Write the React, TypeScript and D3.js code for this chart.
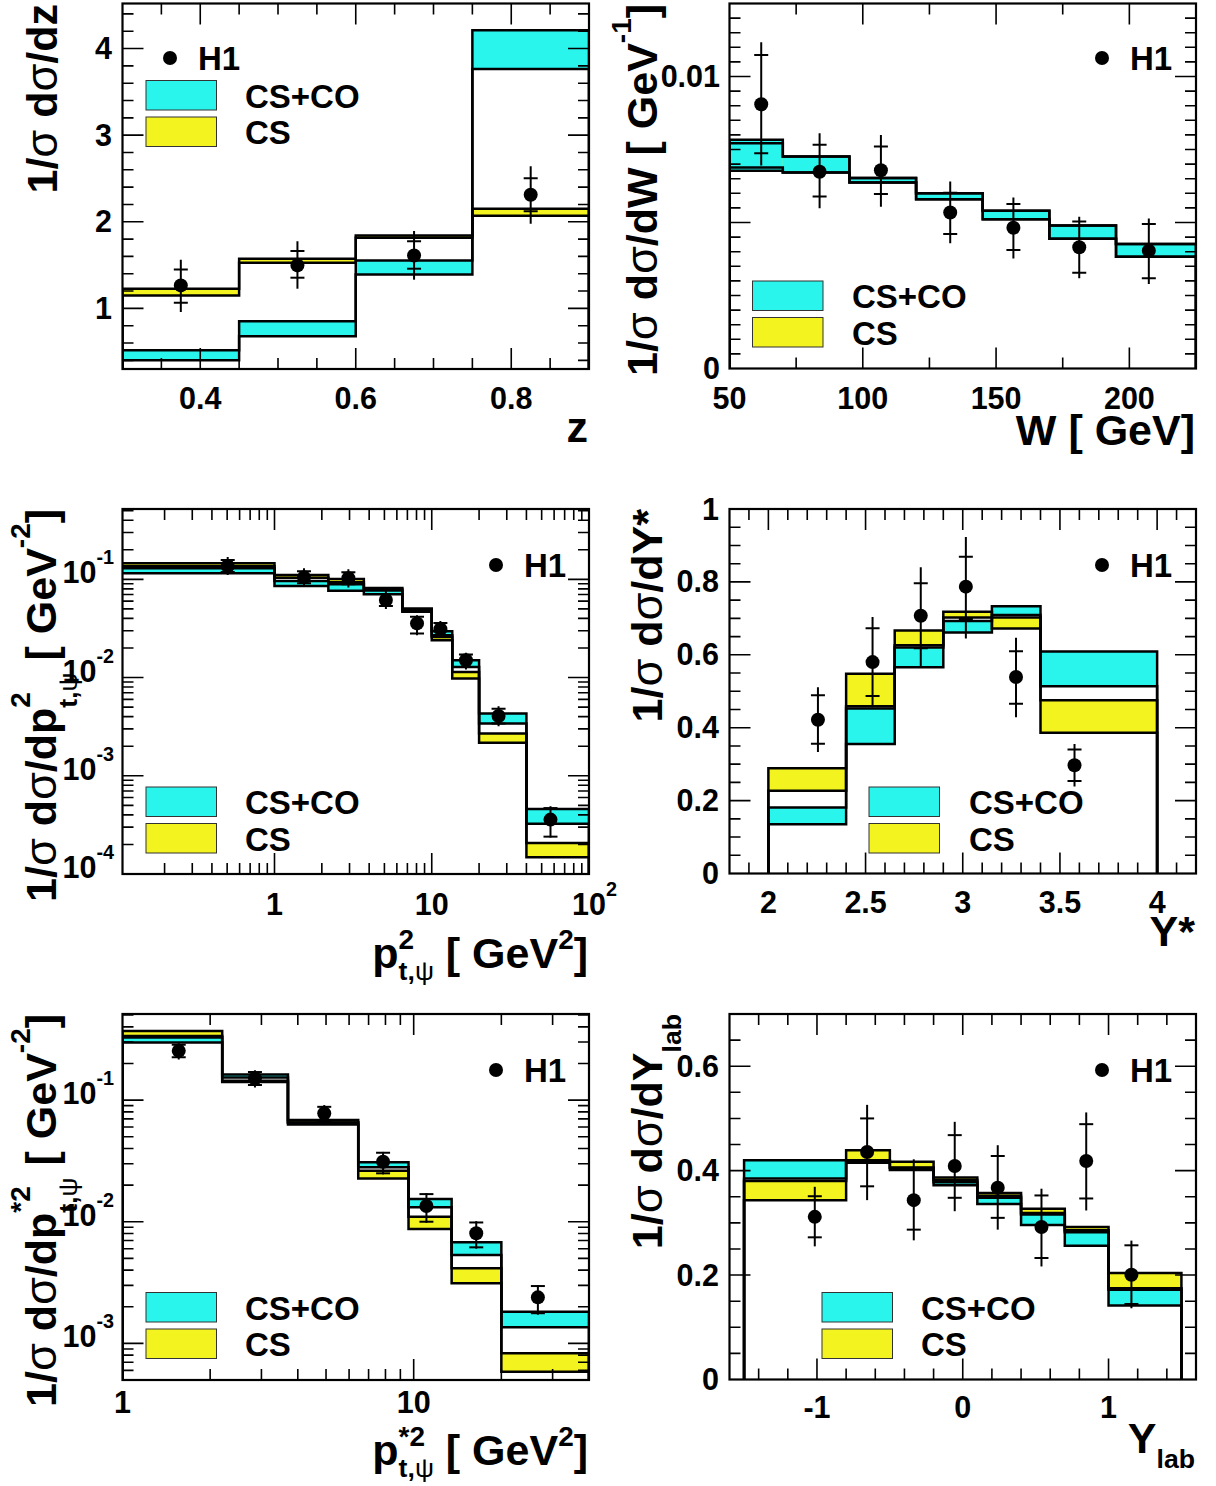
import React from 'react';
import * as d3 from 'd3';

const W = 1216, H = 1486;
const CYAN = '#2af5ec';
const YELLOW = '#f3f41f';
const FF = '"Liberation Sans", Arial, Helvetica, sans-serif';

// ================= DATA =================
// Panel 1: z
const zEdges = [0.3, 0.45, 0.6, 0.75, 0.9];
const zCsCoLo = [0.40, 0.677, 1.392, 3.765];
const zCsCoHi = [0.516, 0.85, 1.553, 4.21];
const zCsLo = [1.15, 1.527, 1.815, 2.07];
const zCsHi = [1.227, 1.573, 1.842, 2.15];
const zH1X = [0.375, 0.525, 0.675, 0.825];
const zH1Y = [1.265, 1.496, 1.611, 2.311];
const zStatLo = [1.066, 1.354, 1.458, 2.122];
const zStatHi = [1.45, 1.661, 1.776, 2.503];
const zTotLo = [0.957, 1.227, 1.331, 1.977];
const zTotHi = [1.562, 1.776, 1.892, 2.641];
const zXTicks = [0.4, 0.6, 0.8];
const zXLabels = ['0.4', '0.6', '0.8'];
const zYTicks = [1, 2, 3, 4];
const zYLabels = ['1', '2', '3', '4'];

// Panel 2: W
const wEdges = [50, 70, 95, 120, 145, 170, 195, 225];
const wCsCoLo = [0.00677, 0.00671, 0.00637, 0.0058, 0.00511, 0.00444, 0.00383];
const wCsCoHi = [0.00783, 0.00726, 0.00652, 0.0060, 0.0054, 0.0049, 0.00426];
const wCsLo = [0.00688, 0.00671, 0.00637, 0.0058, 0.00511, 0.00444, 0.00383];
const wCsHi = [0.00771, 0.00726, 0.00652, 0.0060, 0.0054, 0.0049, 0.00426];
const wH1X = [61.9, 83.8, 106.8, 132.8, 156.5, 181.2, 207.3];
const wH1Y = [0.00905, 0.00674, 0.00679, 0.00534, 0.00482, 0.00415, 0.00403];
const wStatLo = [0.00737, 0.00589, 0.00598, 0.00461, 0.00406, 0.00328, 0.00309];
const wStatHi = [0.01074, 0.00766, 0.0076, 0.00602, 0.00563, 0.00503, 0.00495];
const wTotLo = [0.00695, 0.00549, 0.00554, 0.00429, 0.00377, 0.00309, 0.00289];
const wTotHi = [0.01117, 0.00806, 0.008, 0.0064, 0.00586, 0.0052, 0.00514];
const wXTicks = [50, 100, 150, 200];
const wXLabels = ['50', '100', '150', '200'];
const wYTicks = [0, 0.01];
const wYLabels = ['0', '0.01'];

// Panel 3: pt^2
const ptEdges = [0.05, 1, 2.2, 3.7, 6.5, 10, 13.5, 20, 40, 100];
const ptCsCoLo = [0.115, 0.0855, 0.0766, 0.0705, 0.0467, 0.027, 0.01283, 0.0034, 0.000324];
const ptCsCoHi = [0.130, 0.0961, 0.0889, 0.077, 0.0485, 0.0296, 0.01503, 0.0043, 0.00046];
const ptCsLo = [0.136, 0.1038, 0.0932, 0.0795, 0.0485, 0.024, 0.00977, 0.00217, 0.000148];
const ptCsHi = [0.1456, 0.1106, 0.1007, 0.0815, 0.0506, 0.0258, 0.0114, 0.00269, 0.000207];
const ptH1X = [0.504, 1.54, 2.95, 5.11, 8.06, 11.35, 16.5, 26.6, 56.9];
const ptH1Y = [0.1368, 0.1048, 0.1024, 0.0615, 0.0356, 0.0311, 0.0150, 0.00406, 0.000358];
const ptStatLo = [0.119, 0.091, 0.089, 0.0534, 0.0281, 0.027, 0.0128, 0.0034, 0.00024];
const ptStatHi = [0.157, 0.1206, 0.118, 0.0708, 0.0417, 0.036, 0.0172, 0.0048, 0.000469];
const ptTotLo = [0.111, 0.0848, 0.0828, 0.0498, 0.027, 0.0262, 0.0121, 0.0032, 0.000235];
const ptTotHi = [0.169, 0.1295, 0.1265, 0.076, 0.0432, 0.0376, 0.0179, 0.0051, 0.00049];
const ptXTicks = [1, 10, 100];
const ptXLabels = [['1'], ['10'], ['10', '2']];
const ptYTicks = [0.1, 0.01, 0.001, 0.0001];
const ptYLabels = [['10', '-1'], ['10', '-2'], ['10', '-3'], ['10', '-4']];

// Panel 4: Y*
const ysEdges = [2, 2.4, 2.65, 2.9, 3.15, 3.4, 4];
const ysCsCoLo = [0.135, 0.355, 0.566, 0.661, 0.709, 0.514];
const ysCsCoHi = [0.181, 0.453, 0.620, 0.693, 0.733, 0.609];
const ysCsLo = [0.227, 0.459, 0.626, 0.702, 0.672, 0.386];
const ysCsHi = [0.289, 0.548, 0.667, 0.718, 0.702, 0.475];
const ysH1X = [2.255, 2.536, 2.784, 3.016, 3.274, 3.575];
const ysH1Y = [0.422, 0.580, 0.707, 0.787, 0.539, 0.297];
const ysStatLo = [0.356, 0.487, 0.618, 0.698, 0.466, 0.254];
const ysStatHi = [0.489, 0.673, 0.796, 0.869, 0.610, 0.340];
const ysTotLo = [0.333, 0.456, 0.569, 0.645, 0.429, 0.239];
const ysTotHi = [0.511, 0.704, 0.840, 0.923, 0.647, 0.355];
const ysXTicks = [2, 2.5, 3, 3.5, 4];
const ysXLabels = ['2', '2.5', '3', '3.5', '4'];
const ysYTicks = [0, 0.2, 0.4, 0.6, 0.8, 1];
const ysYLabels = ['0', '0.2', '0.4', '0.6', '0.8', '1'];

// Panel 5: pt*^2
const psEdges = [1, 2.2, 3.7, 6.45, 9.6, 13.5, 20, 40];
const psCsCoLo = [0.298, 0.153, 0.063, 0.028, 0.01313, 0.00532, 0.001355];
const psCsCoHi = [0.327, 0.1625, 0.0655, 0.0308, 0.01538, 0.00678, 0.001824];
const psCsLo = [0.336, 0.141, 0.0655, 0.0227, 0.0087, 0.00312, 0.000585];
const psCsHi = [0.369, 0.144, 0.0686, 0.0262, 0.011, 0.00414, 0.00083];
const psH1X = [1.56, 2.85, 4.93, 7.85, 11.06, 16.4, 26.7];
const psH1Y = [0.254, 0.1507, 0.0778, 0.0311, 0.01345, 0.00803, 0.00239];
const psStatLo = [0.225, 0.133, 0.066, 0.025, 0.0100, 0.00616, 0.00177];
const psStatHi = [0.285, 0.170, 0.088, 0.0369, 0.01687, 0.00986, 0.00296];
const psTotLo = [0.216, 0.127, 0.0636, 0.0245, 0.0098, 0.006, 0.00172];
const psTotHi = [0.293, 0.176, 0.091, 0.0375, 0.0172, 0.0101, 0.00302];
const psXTicks = [1, 10];
const psXLabels = [['1'], ['10']];
const psYTicks = [0.1, 0.01, 0.001];
const psYLabels = [['10', '-1'], ['10', '-2'], ['10', '-3']];

// Panel 6: Y_lab
const ylEdges = [-1.5, -0.8, -0.5, -0.2, 0.1, 0.4, 0.7, 1.0, 1.5];
const ylCsCoLo = [0.385, 0.415, 0.401, 0.372, 0.336, 0.296, 0.256, 0.1415];
const ylCsCoHi = [0.420, 0.419, 0.405, 0.378, 0.348, 0.316, 0.282, 0.1717];
const ylCsLo = [0.3435, 0.420, 0.406, 0.382, 0.352, 0.319, 0.286, 0.175];
const ylCsHi = [0.380, 0.439, 0.417, 0.387, 0.357, 0.327, 0.292, 0.204];
const ylH1X = [-1.015, -0.656, -0.336, -0.055, 0.240, 0.540, 0.847, 1.157];
const ylH1Y = [0.3115, 0.4358, 0.3435, 0.409, 0.3673, 0.292, 0.4185, 0.2006];
const ylStatLo = [0.2723, 0.370, 0.287, 0.348, 0.3096, 0.2327, 0.3467, 0.1448];
const ylStatHi = [0.351, 0.50, 0.404, 0.468, 0.428, 0.3525, 0.489, 0.257];
const ylTotLo = [0.255, 0.3435, 0.2665, 0.3223, 0.287, 0.2165, 0.3237, 0.1365];
const ylTotHi = [0.369, 0.526, 0.4217, 0.4935, 0.4487, 0.3654, 0.5115, 0.266];
const ylXTicks = [-1, 0, 1];
const ylXLabels = ['-1', '0', '1'];
const ylYTicks = [0, 0.2, 0.4, 0.6];
const ylYLabels = ['0', '0.2', '0.4', '0.6'];

const legendH1 = 'H1';
const legendCsCo = 'CS+CO';
const legendCs = 'CS';

// ================= TEXT LAYOUT =================
let _ctx: any = null;
function textWidth(t: string, size: number, weight: string) {
  if (!_ctx) _ctx = document.createElement('canvas').getContext('2d');
  if (!_ctx) return t.length * size * 0.55;
  _ctx.font = `${weight} ${size}px "Liberation Sans"`;
  return _ctx.measureText(t).width;
}
// mark: remember cursor as start of a script group; stack: start at the last mark
type Seg = { t: string; s?: number; up?: number; w?: string; mark?: boolean; stack?: boolean };
function layoutSegs(segs: Seg[], size: number) {
  let cursor = 0, markX = 0;
  const items: any[] = [];
  for (const sg of segs) {
    const fs = size * (sg.s ?? 1);
    const wt = sg.w ?? 'bold';
    const w = textWidth(sg.t, fs, wt);
    if (sg.mark) markX = cursor;
    let x: number;
    if (sg.stack) {
      x = markX;
      cursor = Math.max(cursor, x + w);
    } else {
      x = cursor;
      cursor = x + w;
    }
    items.push({ t: sg.t, x, dy: -(sg.up ?? 0) * size, fs, wt, w });
  }
  return { items, width: cursor };
}
function Rich({ x, y, segs, size, anchor = 'start', rotate = 0 }: any) {
  const { items, width } = layoutSegs(segs, size);
  let off = 0;
  if (anchor === 'end') off = -width;
  else if (anchor === 'middle') off = -width / 2;
  else if (anchor === 'middleFirst') off = -items[0].w / 2;
  return (
    <g transform={`translate(${x},${y}) rotate(${rotate})`}>
      {items.map((it: any, i: number) => (
        <text key={i} x={it.x + off} y={it.dy} fontSize={it.fs} fontWeight={it.wt}
          fontFamily={FF} fill="#000" style={{ whiteSpace: 'pre' }}>{it.t}</text>
      ))}
    </g>
  );
}

const SUPS = 0.65, SUBS = 0.62;
const sup = (t: string, up: number, stack = false): Seg => ({ t, s: SUPS, up, stack });
const sigma: Seg = { t: 'σ', w: 'normal', s: 1.05 };
const yPrefix: Seg[] = [{ t: '1/' }, sigma, { t: ' d' }, sigma, { t: '/d' }];
const psiSub = (down: number): Seg[] => [
  { t: 't,', s: SUBS, up: -down, mark: true },
  { t: 'ψ', s: SUBS, up: -down, w: 'normal' },
];
// y-title script offsets / x-title script offsets (in em of the title size)
const YSUP = 0.6, YSUB = 0.48, XSUP = 0.45, XSUB = 0.28;

// ================= PANELS =================
function linTicks(d0: number, d1: number, step: number, majors: number[]) {
  const out: { v: number; major: boolean }[] = [];
  const n0 = Math.ceil(d0 / step - 1e-6), n1 = Math.floor(d1 / step + 1e-6);
  for (let n = n0; n <= n1; n++) {
    const v = +(n * step).toFixed(8);
    out.push({ v, major: majors.some(m => Math.abs(m - v) < step * 1e-3) });
  }
  return out;
}
function logTicks(d0: number, d1: number) {
  const out: { v: number; major: boolean }[] = [];
  for (let e = Math.floor(Math.log10(d0)) - 1; e <= Math.ceil(Math.log10(d1)); e++) {
    for (let m = 1; m < 10; m++) {
      const v = m * Math.pow(10, e);
      if (v >= d0 * 0.9999 && v <= d1 * 1.0001) out.push({ v, major: m === 1 });
    }
  }
  return out;
}
const TSUP = 0.62;

const panels: any[] = [
  {
    id: 'z', frame: { x0: 122.5, x1: 589, y0: 3.5, y1: 369 },
    xLog: false, yLog: false, xDomain: [0.3, 0.9], yDomain: [0.3, 4.52],
    xT: linTicks(0.3, 0.9, 0.05, zXTicks), yT: linTicks(0.3, 4.52, 0.2, zYTicks),
    xLab: zXTicks.map((v, i) => ({ v, segs: [{ t: zXLabels[i] }] })),
    yLab: zYTicks.map((v, i) => ({ v, segs: [{ t: zYLabels[i] }] })),
    edges: zEdges, coLo: zCsCoLo, coHi: zCsCoHi, csLo: zCsLo, csHi: zCsHi,
    hx: zH1X, hy: zH1Y, sLo: zStatLo, sHi: zStatHi, tLo: zTotLo, tHi: zTotHi,
    xLabY: 409, yLabX: 112, yLabDy: 10.5,
    legH1: [170, 58], legBox: [146, 80.5], legText: 245,
    yTitle: { x: 57, y: 4, segs: [...yPrefix, { t: 'z' }] },
    xTitle: { x: 588, y: 442, segs: [{ t: 'z' }] },
  },
  {
    id: 'w', frame: { x0: 729.5, x1: 1196, y0: 3.5, y1: 368.5 },
    xLog: false, yLog: false, xDomain: [50, 225], yDomain: [0, 0.0125],
    xT: linTicks(50, 225, 25, wXTicks), yT: linTicks(0, 0.0125, 0.0005, [0, 0.005, 0.01]),
    xLab: wXTicks.map((v, i) => ({ v, segs: [{ t: wXLabels[i] }] })),
    yLab: wYTicks.map((v, i) => ({ v, segs: [{ t: wYLabels[i] }] })),
    edges: wEdges, coLo: wCsCoLo, coHi: wCsCoHi, csLo: wCsLo, csHi: wCsHi,
    hx: wH1X, hy: wH1Y, sLo: wStatLo, sHi: wStatHi, tLo: wTotLo, tHi: wTotHi,
    xLabY: 409, yLabX: 720, yLabDy: 10.5,
    legH1: [1102, 58], legBox: [752.5, 281], legText: 852,
    yTitle: { x: 657, y: 4, segs: [...yPrefix, { t: 'W [ GeV' }, sup('-1', YSUP), { t: ']' }] },
    xTitle: { x: 1195, y: 445, segs: [{ t: 'W [ GeV]' }] },
  },
  {
    id: 'pt', frame: { x0: 122.5, x1: 589, y0: 509, y1: 874 },
    xLog: true, yLog: true, xDomain: [0.108, 100], yDomain: [1e-4, 0.52],
    xT: logTicks(0.108, 100), yT: logTicks(1e-4, 0.52),
    xLab: ptXTicks.map((v, i) => ({ v, segs: ptXLabels[i].length > 1 ? [{ t: ptXLabels[i][0] }, sup(ptXLabels[i][1], TSUP)] : [{ t: ptXLabels[i][0] }] })),
    yLab: ptYTicks.map((v, i) => ({ v, segs: [{ t: ptYLabels[i][0] }, sup(ptYLabels[i][1], TSUP)] })),
    edges: ptEdges, coLo: ptCsCoLo, coHi: ptCsCoHi, csLo: ptCsLo, csHi: ptCsHi,
    hx: ptH1X, hy: ptH1Y, sLo: ptStatLo, sHi: ptStatHi, tLo: ptTotLo, tHi: ptTotHi,
    xLabY: 915, yLabX: 114, yLabDy: 4,
    legH1: [496, 565], legBox: [146, 787], legText: 245,
    yTitle: { x: 56, y: 509, segs: [...yPrefix, { t: 'p' }, ...psiSub(YSUB), sup('2', YSUP, true), { t: ' [ GeV' }, sup('-2', YSUP), { t: ']' }] },
    xTitle: { x: 588, y: 968, segs: [{ t: 'p' }, ...psiSub(XSUB), sup('2', XSUP, true), { t: ' [ GeV' }, sup('2', XSUP), { t: ']' }] },
  },
  {
    id: 'ys', frame: { x0: 729.5, x1: 1196, y0: 509, y1: 873.5 },
    xLog: false, yLog: false, xDomain: [1.8, 4.2], yDomain: [0, 1],
    xT: linTicks(1.8, 4.2, 0.1, ysXTicks), yT: linTicks(0, 1, 0.05, ysYTicks),
    xLab: ysXTicks.map((v, i) => ({ v, segs: [{ t: ysXLabels[i] }] })),
    yLab: ysYTicks.map((v, i) => ({ v, segs: [{ t: ysYLabels[i] }] })),
    edges: ysEdges, coLo: ysCsCoLo, coHi: ysCsCoHi, csLo: ysCsLo, csHi: ysCsHi,
    hx: ysH1X, hy: ysH1Y, sLo: ysStatLo, sHi: ysStatHi, tLo: ysTotLo, tHi: ysTotHi,
    xLabY: 913, yLabX: 719, yLabDy: 10.5,
    legH1: [1102, 565], legBox: [869, 787], legText: 969,
    yTitle: { x: 662, y: 509, segs: [...yPrefix, { t: 'Y*' }] },
    xTitle: { x: 1195, y: 946, segs: [{ t: 'Y*' }] },
  },
  {
    id: 'ps', frame: { x0: 122.5, x1: 589, y0: 1014, y1: 1380 },
    xLog: true, yLog: true, xDomain: [1, 40], yDomain: [5e-4, 0.51],
    xT: logTicks(1, 40), yT: logTicks(5e-4, 0.51),
    xLab: psXTicks.map((v, i) => ({ v, segs: [{ t: psXLabels[i][0] }] })),
    yLab: psYTicks.map((v, i) => ({ v, segs: [{ t: psYLabels[i][0] }, sup(psYLabels[i][1], TSUP)] })),
    edges: psEdges, coLo: psCsCoLo, coHi: psCsCoHi, csLo: psCsLo, csHi: psCsHi,
    hx: psH1X, hy: psH1Y, sLo: psStatLo, sHi: psStatHi, tLo: psTotLo, tHi: psTotHi,
    xLabY: 1413, yLabX: 114, yLabDy: 4,
    legH1: [496, 1070], legBox: [146, 1292.5], legText: 245,
    yTitle: { x: 56, y: 1014, segs: [...yPrefix, { t: 'p' }, ...psiSub(YSUB), sup('*2', YSUP, true), { t: ' [ GeV' }, sup('-2', YSUP), { t: ']' }] },
    xTitle: { x: 588, y: 1465, segs: [{ t: 'p' }, ...psiSub(XSUB), sup('*2', XSUP, true), { t: ' [ GeV' }, sup('2', XSUP), { t: ']' }] },
  },
  {
    id: 'yl', frame: { x0: 729.5, x1: 1196, y0: 1014, y1: 1379.5 },
    xLog: false, yLog: false, xDomain: [-1.6, 1.6], yDomain: [0, 0.7],
    xT: linTicks(-1.6, 1.6, 0.2, ylXTicks), yT: linTicks(0, 0.7, 0.05, ylYTicks),
    xLab: ylXTicks.map((v, i) => ({ v, segs: [{ t: ylXLabels[i] }] })),
    yLab: ylYTicks.map((v, i) => ({ v, segs: [{ t: ylYLabels[i] }] })),
    edges: ylEdges, coLo: ylCsCoLo, coHi: ylCsCoHi, csLo: ylCsLo, csHi: ylCsHi,
    hx: ylH1X, hy: ylH1Y, sLo: ylStatLo, sHi: ylStatHi, tLo: ylTotLo, tHi: ylTotHi,
    xLabY: 1418, yLabX: 719, yLabDy: 10.5,
    legH1: [1102, 1070], legBox: [822, 1292.5], legText: 921,
    yTitle: { x: 662, y: 1014, segs: [...yPrefix, { t: 'Y' }, { t: 'lab', s: SUBS, up: -0.45 }] },
    xTitle: { x: 1195, y: 1453, segs: [{ t: 'Y' }, { t: 'lab', s: SUBS, up: -0.35 }] },
  },
];

const TICK_FS = 30.5, LEG_FS = 33, TITLE_FS = 43;

function Panel({ p }: { p: any }) {
  const { x0, x1, y0, y1 } = p.frame;
  const xs: any = (p.xLog ? d3.scaleLog() : d3.scaleLinear()).domain(p.xDomain).range([x0, x1]);
  const ys: any = (p.yLog ? d3.scaleLog() : d3.scaleLinear()).domain(p.yDomain).range([y1, y0]);
  const clipId = `clip-${p.id}`;
  const edges: number[] = p.edges;

  const stepPath = (vals: number[]) => {
    let d = `M${xs(edges[0])},${y1}`;
    vals.forEach((v, i) => { d += `V${ys(v)}H${xs(edges[i + 1])}`; });
    d += `V${y1}`;
    return d;
  };
  const bandRects = (lo: number[], hi: number[], fill: string) =>
    lo.map((l, i) => (
      <rect key={fill + i} x={xs(edges[i])} width={xs(edges[i + 1]) - xs(edges[i])}
        y={ys(hi[i])} height={ys(l) - ys(hi[i])} fill={fill} />
    ));

  let tickD = '';
  const eps = 0.5;
  p.xT.forEach((t: any) => {
    const x = xs(t.v);
    if (x <= x0 + eps || x >= x1 - eps) return;
    const L = t.major ? 21 : 11;
    tickD += `M${x},${y1}V${y1 - L}M${x},${y0}V${y0 + L}`;
  });
  p.yT.forEach((t: any) => {
    const y = ys(t.v);
    if (y >= y1 - eps || y <= y0 + eps) return;
    const L = t.major ? 21 : 11;
    tickD += `M${x0},${y}H${x0 + L}M${x1},${y}H${x1 - L}`;
  });

  const [bx, by] = p.legBox;
  return (
    <g>
      <defs>
        <clipPath id={clipId}><rect x={x0} y={y0} width={x1 - x0} height={y1 - y0} /></clipPath>
      </defs>
      <g clipPath={`url(#${clipId})`}>
        {bandRects(p.csLo, p.csHi, YELLOW)}
        {bandRects(p.coLo, p.coHi, CYAN)}
        {[p.csLo, p.csHi, p.coLo, p.coHi].map((v: number[], i: number) => (
          <path key={i} d={stepPath(v)} fill="none" stroke="#000" strokeWidth={2.5} />
        ))}
        {p.hx.map((xv: number, i: number) => {
          const cx = xs(xv);
          return (
            <g key={'h' + i} stroke="#000" strokeWidth={2}>
              <line x1={cx} x2={cx} y1={ys(p.tLo[i])} y2={ys(p.tHi[i])} />
              <line x1={cx - 7} x2={cx + 7} y1={ys(p.sLo[i])} y2={ys(p.sLo[i])} />
              <line x1={cx - 7} x2={cx + 7} y1={ys(p.sHi[i])} y2={ys(p.sHi[i])} />
              <circle cx={cx} cy={ys(p.hy[i])} r={7} fill="#000" stroke="none" />
            </g>
          );
        })}
      </g>
      <path d={tickD} stroke="#000" strokeWidth={1.6} fill="none" />
      <rect x={x0} y={y0} width={x1 - x0} height={y1 - y0} fill="none" stroke="#000" strokeWidth={2.2} />

      {p.xLab.map((l: any, i: number) => (
        <Rich key={'xl' + i} x={xs(l.v)} y={p.xLabY} segs={l.segs} size={TICK_FS} anchor="middleFirst" />
      ))}
      {p.yLab.map((l: any, i: number) => (
        <Rich key={'yl' + i} x={p.yLabX} y={ys(l.v) + p.yLabDy} segs={l.segs} size={TICK_FS} anchor="end" />
      ))}

      <Rich x={p.yTitle.x} y={p.yTitle.y} segs={p.yTitle.segs} size={TITLE_FS} anchor="end" rotate={-90} />
      <Rich x={p.xTitle.x} y={p.xTitle.y} segs={p.xTitle.segs} size={TITLE_FS} anchor="end" />

      <circle cx={p.legH1[0]} cy={p.legH1[1]} r={7} fill="#000" />
      <text x={p.legH1[0] + 28} y={p.legH1[1] + 12} fontSize={LEG_FS} fontWeight="bold" fontFamily={FF}>{legendH1}</text>
      <rect x={bx} y={by} width={70.5} height={29.5} fill={CYAN} stroke="#333" strokeWidth={1} />
      <rect x={bx} y={by + 36.5} width={70.5} height={29.5} fill={YELLOW} stroke="#333" strokeWidth={1} />
      <text x={p.legText} y={by + 27} fontSize={LEG_FS} fontWeight="bold" fontFamily={FF}>{legendCsCo}</text>
      <text x={p.legText} y={by + 63.5} fontSize={LEG_FS} fontWeight="bold" fontFamily={FF}>{legendCs}</text>
    </g>
  );
}

export default function App() {
  return (
    <svg width={W} height={H} viewBox={`0 0 ${W} ${H}`} xmlns="http://www.w3.org/2000/svg"
      style={{ position: 'absolute', left: 0, top: 0, display: 'block', background: '#fff' }}>
      <rect width={W} height={H} fill="#fff" />
      {panels.map(p => <Panel key={p.id} p={p} />)}
    </svg>
  );
}
